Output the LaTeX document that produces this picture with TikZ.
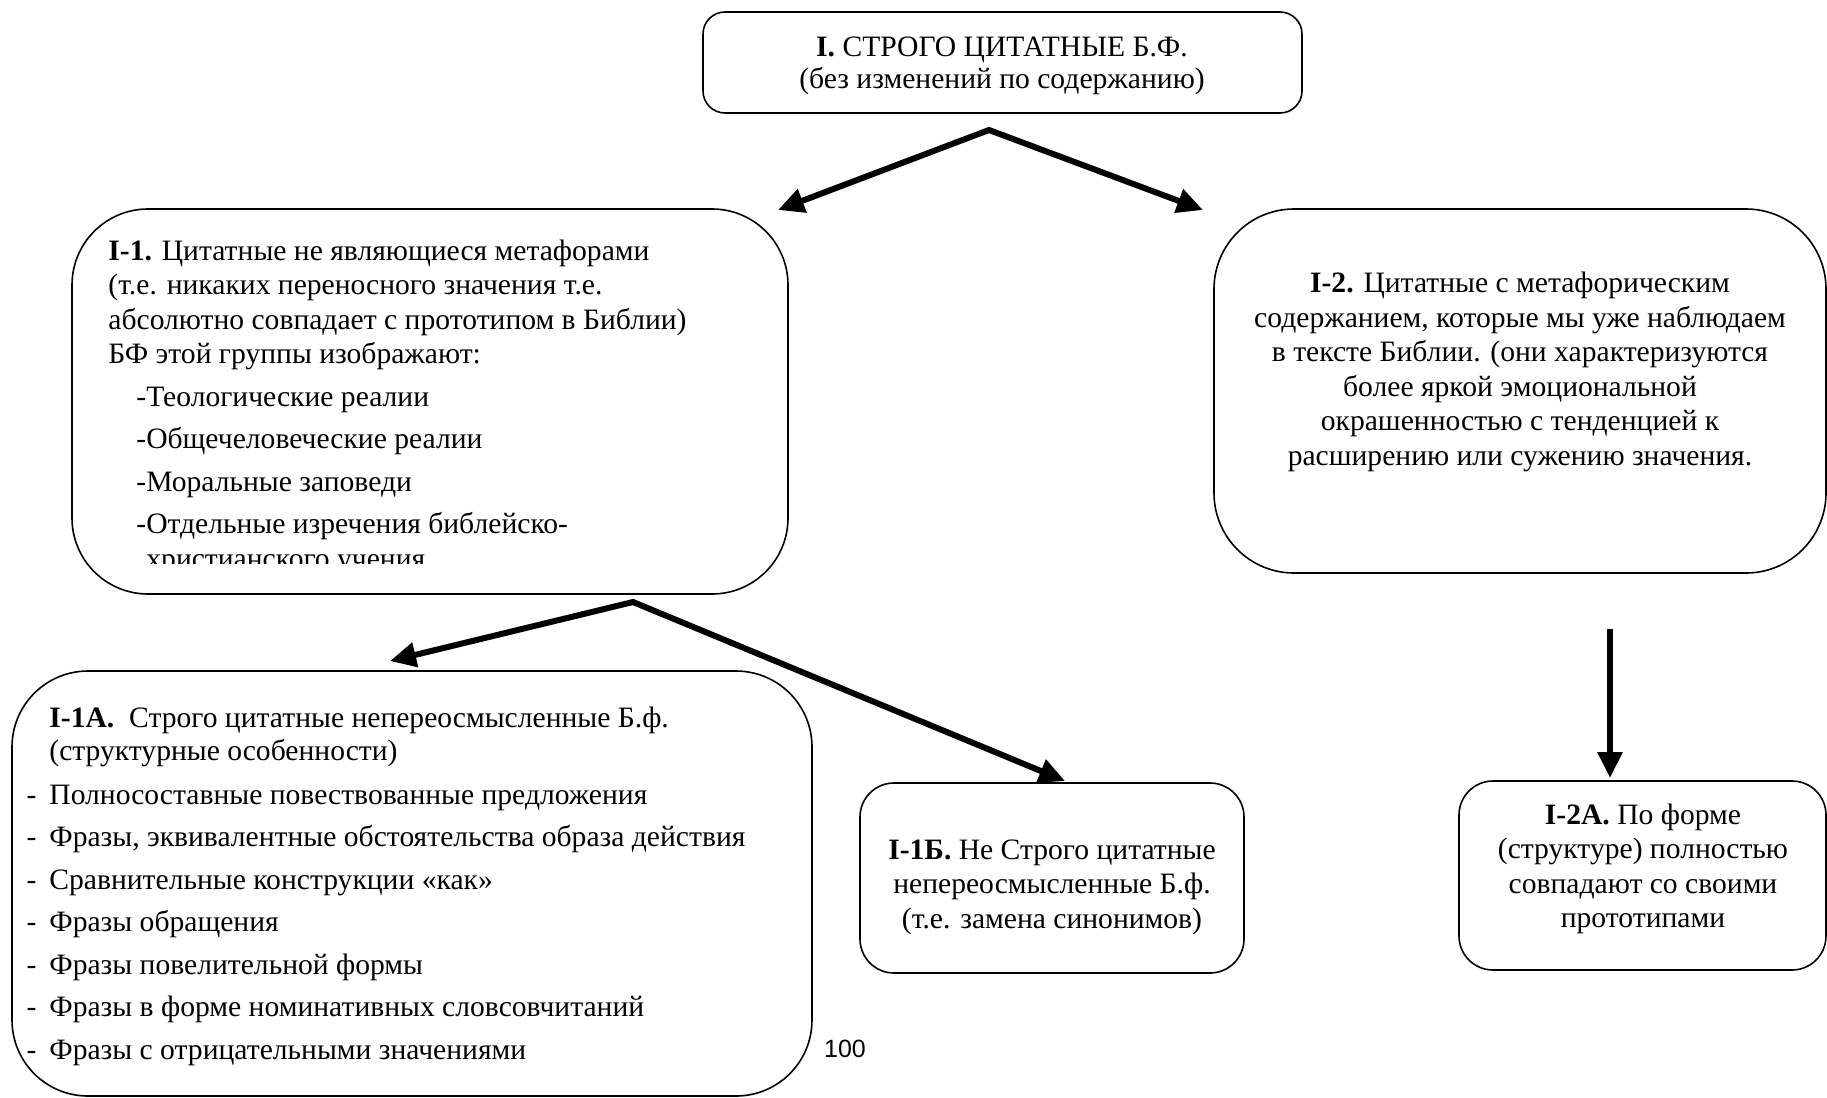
\documentclass[tikz,border=0pt]{standalone}
\usepackage{fontspec}
\setmainfont{Liberation Serif}
\newfontfamily\pagenumfont{Liberation Sans}
\usetikzlibrary{arrows.meta,fit}

\begin{document}
\begin{tikzpicture}[x=0.5pt,y=-0.5pt,
  box/.style={draw,line width=0.8pt,inner sep=0pt},
  txt/.style={inner sep=0pt,font=\fontsize{14.8}{17.25}\selectfont},
  fan/.style={line width=3pt,{Triangle[length=13pt,width=12pt]}-{Triangle[length=13pt,width=12pt]}},
  drop/.style={line width=3pt,-{Triangle[length=13pt,width=12pt]}}]
\useasboundingbox (0,0) rectangle (1827,1098);
% boxes
\node[box,rounded corners=11pt,fit={(703,12) (1302,113)}] (top) {};
\node[box,rounded corners=38pt,fit={(72,209) (788,594)}] (i1) {};
\node[box,rounded corners=40pt,fit={(1214,209) (1826,573)}] (i2) {};
\node[box,rounded corners=38pt,fit={(12,671) (812,1096)}] (i1a) {};
\node[box,rounded corners=17pt,fit={(860,783) (1244,973)}] (i1b) {};
\node[box,rounded corners=17pt,fit={(1459,781) (1826,970)}] (i2a) {};
% texts (base west = baseline of the last line)
\node[txt,align=center] (toptext) at (1002,66) {\textbf{I.} СТРОГО ЦИТАТНЫЕ Б.Ф.\\[-1pt](без изменений по содержанию)};
\begin{scope}
\clip (72,209) rectangle (788,563);
\node[txt,align=left,anchor=base west] (i1text) at (108,568) {\textbf{I-1.} Цитатные не являющиеся метафорами\\
(т.е. никаких переносного значения т.е.\\
абсолютно совпадает с прототипом в Библии)\\
БФ этой группы изображают:\\[4pt]
\hspace*{14pt}-Теологические реалии\\[4pt]
\hspace*{14pt}-Общечеловеческие реалии\\[4pt]
\hspace*{14pt}-Моральные заповеди\\[4pt]
\hspace*{14pt}-Отдельные изречения библейско-\\
\hspace*{19pt}христианского учения};
\end{scope}
\node[txt,align=center] (i2text) at (1520,372) {\textbf{I-2.} Цитатные с метафорическим\\
содержанием, которые мы уже наблюдаем\\
в тексте Библии. (они характеризуются\\
более яркой эмоциональной\\
окрашенностью с тенденцией к\\
расширению или сужению значения.};
\node[txt,align=left,anchor=base west] (i1atext) at (49,1059) {\textbf{I-1А.}\ \ Строго цитатные непереосмысленные Б.ф.\\[-1pt]
(структурные особенности)\\[4.75pt]
\llap{-\hspace{6.5pt}}Полносоставные повествованные предложения\\[4pt]
\llap{-\hspace{6.5pt}}Фразы, эквивалентные обстоятельства образа действия\\[4pt]
\llap{-\hspace{6.5pt}}Сравнительные конструкции «как»\\[4pt]
\llap{-\hspace{6.5pt}}Фразы обращения\\[4pt]
\llap{-\hspace{6.5pt}}Фразы повелительной формы\\[4pt]
\llap{-\hspace{6.5pt}}Фразы в форме номинативных словсовчитаний\\[4pt]
\llap{-\hspace{6.5pt}}Фразы с отрицательными значениями};
\node[txt,align=center] (i1btext) at (1052,887) {\textbf{I-1Б.} Не Строго цитатные\\
непереосмысленные Б.ф.\\
(т.е. замена синонимов)};
\node[txt,align=center] (i2atext) at (1643,869) {\textbf{I-2А.} По форме\\
(структуре) полностью\\
совпадают со своими\\
прототипами};
\node[inner sep=0pt,font=\pagenumfont\fontsize{12.5}{15}\selectfont] (pagenum) at (845,1049) {100};
% arrows
\coordinate (fan1) at (989,130);
\coordinate (fan1l) at (778,210);
\coordinate (fan1r) at (1203,210);
\coordinate (fan2) at (633,602);
\coordinate (fan2l) at (390,661);
\coordinate (fan2r) at (1065,781);
\coordinate (drop1) at (1610,629);
\coordinate (drop2) at (1610,778);
\draw[fan] (fan1l) -- (fan1) -- (fan1r);
\draw[fan] (fan2l) -- (fan2) -- (fan2r);
\draw[drop] (drop1) -- (drop2);
\end{tikzpicture}
\end{document}
